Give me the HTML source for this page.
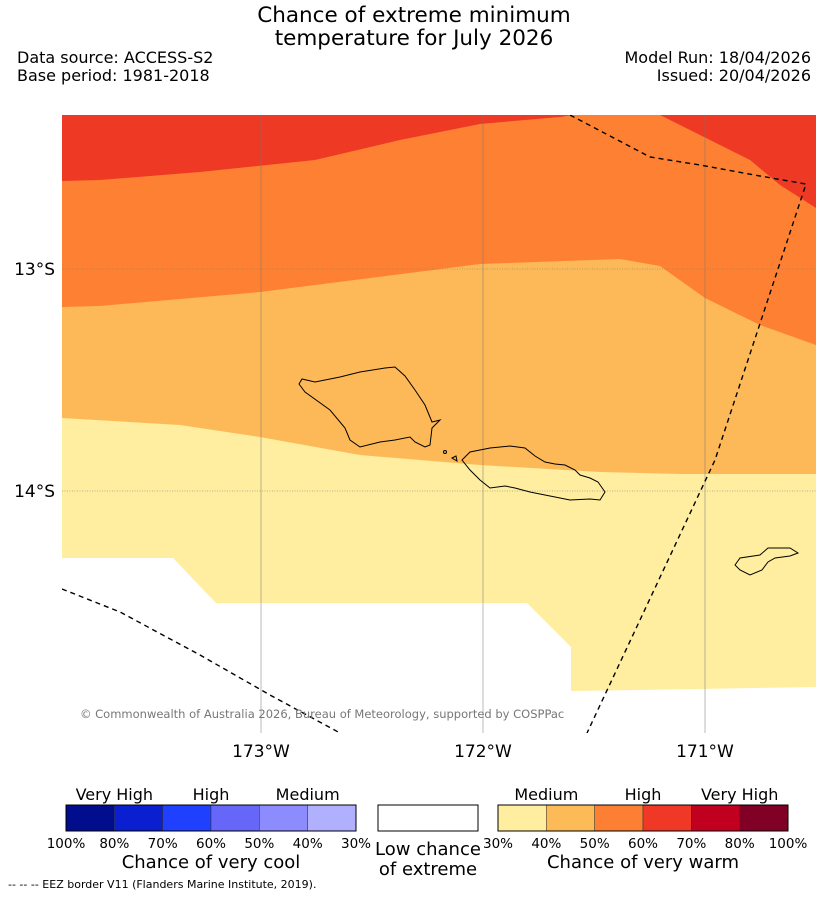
<!DOCTYPE html>
<html><head><meta charset="utf-8"><style>
body{margin:0;background:#fff;font-family:"DejaVu Sans","Liberation Sans",sans-serif;}
</style></head><body>
<svg width="827" height="896" viewBox="0 0 827 896" xmlns="http://www.w3.org/2000/svg" font-family="DejaVu Sans, Liberation Sans, sans-serif">
<g font-size="21.5" text-anchor="middle" fill="#000">
<text x="414" y="22">Chance of extreme minimum</text>
<text x="414" y="45">temperature for July 2026</text>
</g>
<g font-size="16"><text x="17" y="63">Data source: ACCESS-S2</text><text x="17" y="81">Base period: 1981-2018</text></g>
<g font-size="16" text-anchor="end"><text x="811" y="63">Model Run: 18/04/2026</text><text x="811" y="81">Issued: 20/04/2026</text></g>
<defs><clipPath id="mc"><rect x="62" y="115" width="754" height="618"/></clipPath></defs>
<g clip-path="url(#mc)">
<rect x="62" y="115" width="754" height="618" fill="#fff"/>
<path fill="#ffeda0" d="M62,115 H816 V687 L571,691 V647 L527,603 H216 L173,558 H62 Z"/>
<path fill="#fdb958" d="M62,115 H816 V474 L680,474 L600,472 L480,465 L360,455 L260,437 L180,425 L62,418 Z"/>
<path fill="#fe8133" d="M62,115 H816 V345 L760,325 L705,298 L660,266 L620,259 L480,264 L260,292 L100,306 L62,307 Z"/>
<path fill="#ee3a24" d="M62,115 H572 L560,117 L480,124 L400,140 L315,160 L200,172 L100,180 L62,181 Z"/>
<path fill="#ee3a24" d="M660,115 H816 V208 L780,185 L750,160 L700,135 Z"/>
<g stroke="#777" stroke-width="0.5">
<line x1="261" y1="115" x2="261" y2="733"/><line x1="483" y1="115" x2="483" y2="733"/><line x1="705" y1="115" x2="705" y2="733"/>
<line x1="62" y1="269" x2="816" y2="269" stroke-dasharray="1,1.5"/><line x1="62" y1="491" x2="816" y2="491" stroke-dasharray="1,1.5"/>
</g>
<g fill="none" stroke="#000" stroke-width="1">
<path d="M299,384 L302,379 L315,382 L340,377 L360,372 L385,368 L395,367 L405,376 L415,390 L425,405 L432,422 L440,420 L432,428 L430,445 L425,447 L415,442 L410,437 L395,440 L380,442 L360,447 L350,440 L345,428 L330,410 L305,392 Z"/>
<path d="M462,460 L470,452 L490,448 L510,446 L525,448 L535,456 L545,462 L555,464 L565,465 L575,470 L580,475 L590,478 L598,482 L605,492 L600,500 L590,499 L570,500 L555,497 L530,492 L515,488 L505,486 L490,488 L480,480 L475,475 L470,470 Z"/>
<circle cx="445" cy="452" r="1.5"/><path d="M452,458 L456,456 L457,461 Z"/>
<path d="M735,565 L740,558 L760,555 L768,548 L790,548 L798,553 L790,556 L775,558 L768,562 L762,570 L750,575 L740,570 Z"/>
</g>
<g fill="none" stroke="#000" stroke-width="1.4" stroke-dasharray="5,4">
<path d="M570,115 L650,157 L700,165 L760,176 L806,184 L715,460 L587,733"/>
<path d="M62,589 L120,612 L200,655 L270,695 L340,733"/>
</g>
<text x="80" y="718" font-size="11.5" fill="#777">© Commonwealth of Australia 2026, Bureau of Meteorology, supported by COSPPac</text>
</g>
<g font-size="17" text-anchor="end"><text x="55" y="275">13°S</text><text x="55" y="497">14°S</text></g>
<g font-size="17" text-anchor="middle"><text x="261" y="757">173°W</text><text x="483" y="757">172°W</text><text x="705" y="757">171°W</text></g>
<g id="leg"></g>
<text x="8" y="888" font-size="11">--  --  -- EEZ border V11 (Flanders Marine Institute, 2019).</text>
</svg>
<script>
const coolColors=["#000d8c","#0a20d0","#2040ff","#6666f8","#8c8cff","#b0b0ff"];
const coolTicks=["100%","80%","70%","60%","50%","40%","30%"];
const warmColors=["#ffeda0","#fdbb58","#fd7f33","#ef3926","#c1001f","#800026"];
const warmTicks=["30%","40%","50%","60%","70%","80%","100%"];
const NS="http://www.w3.org/2000/svg";
const g=document.getElementById('leg');
function mk(t,a,txt){const e=document.createElementNS(NS,t);for(const k in a)e.setAttribute(k,a[k]);if(txt)e.textContent=txt;g.appendChild(e);return e;}
function bar(x0,colors,ticks,name,cats,title){
 const w=290/colors.length;
 colors.forEach((c,i)=>{const r=mk('rect',{x:x0+i*w,y:805,width:w,height:26,fill:c,stroke:'#333','stroke-width':0.5});
 
 });
 mk('rect',{x:x0,y:805,width:290,height:26,fill:'none',stroke:'#000','stroke-width':1});
 ticks.forEach((t,i)=>{const e=mk('text',{x:x0+i*w,y:848,'font-size':13.5,'text-anchor':'middle'},t);
 
 });
 cats.forEach((t,i)=>{const e=mk('text',{x:x0+(i*2+1)*w,y:800,'font-size':16,'text-anchor':'middle'},t);
 
 });
 const e=mk('text',{x:x0+145,y:868,'font-size':18,'text-anchor':'middle'},title);
 
 
}
bar(66,coolColors,coolTicks,'cool',["Very High","High","Medium"],"Chance of very cool");
bar(498,warmColors,warmTicks,'warm',["Medium","High","Very High"],"Chance of very warm");
const lb=mk('rect',{x:378,y:805,width:100,height:26,fill:'#fff',stroke:'#000'});


const l1=mk('text',{x:428,y:855,'font-size':18,'text-anchor':'middle'},'Low chance');


const l2=mk('text',{x:428,y:875,'font-size':18,'text-anchor':'middle'},'of extreme');


</script>
</body></html>
